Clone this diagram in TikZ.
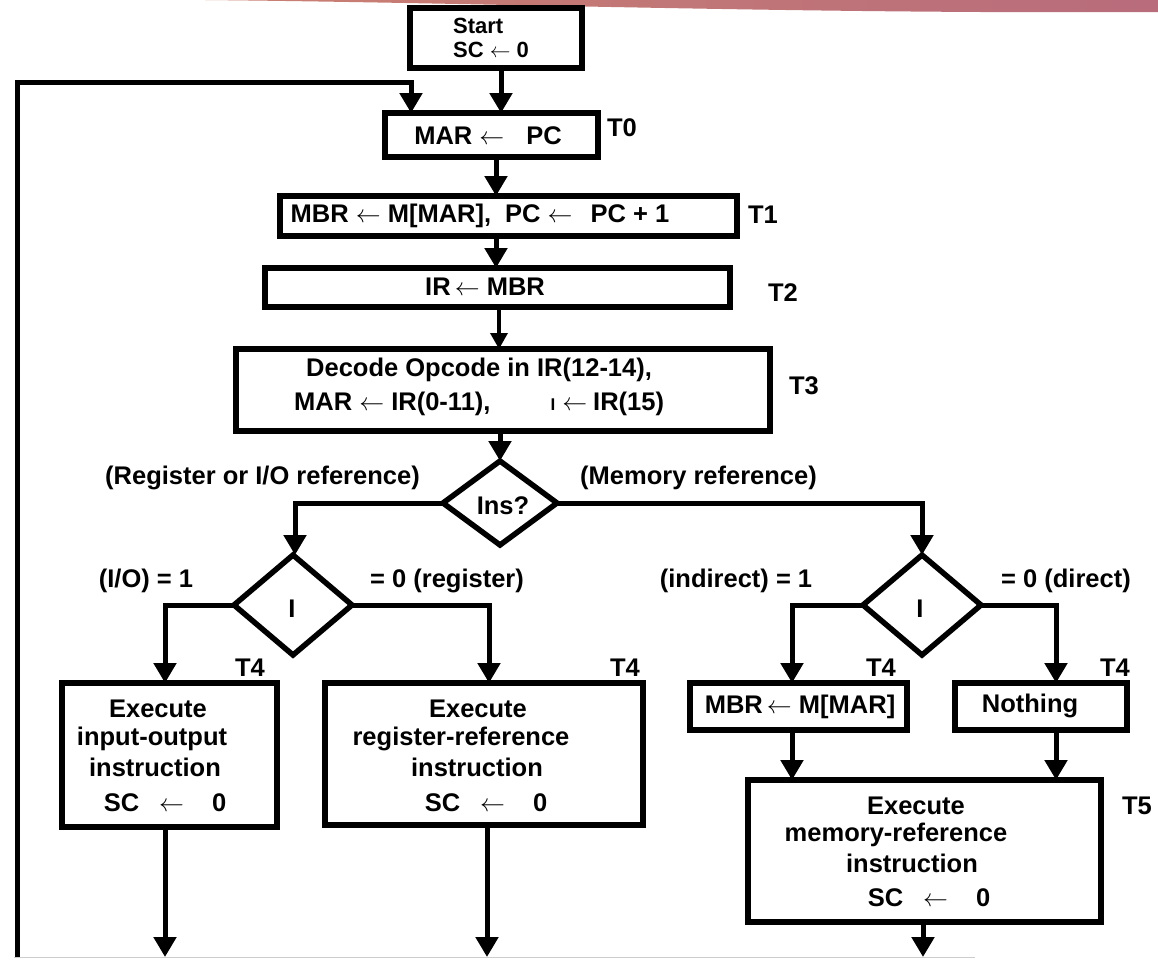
\documentclass[tikz,border=0pt]{standalone}
\usepackage{fontspec}
\setmainfont{Liberation Sans}
\usetikzlibrary{arrows.meta,shapes.geometric}
\definecolor{bandL}{RGB}{202,128,114}
\definecolor{bandR}{RGB}{184,108,124}
\definecolor{rule}{RGB}{205,205,205}
\begin{document}
\begin{tikzpicture}[x=1pt,y=-1pt,
  box/.style={draw, line width=5.5pt, rectangle, inner sep=0pt, outer sep=0pt},
  dia/.style={draw, line width=5.5pt, diamond, inner sep=0pt, outer sep=0pt},
  txt/.style={font=\bfseries\fontsize{25.5}{30}\selectfont, inner sep=0pt, align=center},
  wire/.style={line width=5pt},
  arr/.style={wire, -{Triangle[width=22pt,length=20pt]}},
  thinarr/.style={line width=3.5pt, -{Triangle[width=17pt,length=16pt]}},
]
\useasboundingbox (0,0) rectangle (1158,959);

% decorative band along the top edge
\shade[left color=bandL, right color=bandR]
  (205,0) .. controls (500,3) and (800,14) .. (1158,12) -- (1158,0) -- cycle;

% faint base rule
\draw[rule, line width=1.5pt] (14,957.5) -- (975,957.5);

% ---------- fetch / decode chain ----------
\node[box, minimum width=172, minimum height=60] (start) at (496,38) {};
\node[txt, anchor=west, align=left, font=\bfseries\fontsize{22}{24}\selectfont] (starttxt) at (453,38) {Start\\SC $\leftarrow$ 0};

\node[box, minimum width=213, minimum height=44] (mar) at (491.5,135) {};
\node[txt] (martxt) at (488,136) {MAR $\leftarrow$\hspace{22pt}PC};
\node[txt] (t0) at (622,128) {T0};

\node[box, minimum width=457, minimum height=40] (mbr) at (508.5,216) {};
\node[txt] (mbrtxt) at (480,216) {MBR $\leftarrow$ M[MAR],\hspace{14pt}PC $\leftarrow$\hspace{18pt}PC + 1};
\node[txt] (t1) at (763,215) {T1};

\node[box, minimum width=465, minimum height=39] (ir) at (497.5,287.5) {};
\node[txt] (irtxt) at (485,287) {IR$\,\leftarrow$ MBR};
\node[txt] (t2) at (783,293) {T2};

\node[box, minimum width=534, minimum height=82] (dec) at (503,390) {};
\node[txt, anchor=west] (dec1) at (306,370) {Decode Opcode in IR(12-14),};
\node[txt, anchor=west] (dec2) at (294,404) {MAR $\leftarrow$ IR(0-11),\hspace{60pt}{\fontsize{17}{20}\selectfont I} $\leftarrow$\hspace{6pt}IR(15)};
\node[txt] (t3) at (804,386) {T3};

% ---------- instruction type decision ----------
\node[dia, minimum width=114, minimum height=84] (ins) at (500,503) {};
\node[txt] (instxt) at (503,506) {Ins?};
\node[txt, anchor=east] (regio) at (420,478) {(Register or I/O reference)};
\node[txt, anchor=west] (memref) at (580,478) {(Memory reference)};

\node[dia, minimum width=118, minimum height=100] (ia) at (293,605) {};
\node[txt] (iatxt) at (292,609) {I};
\node[txt] (io1) at (146,581) {(I/O) = 1};
\node[txt] (reg0) at (447,581) {= 0 (register)};

\node[dia, minimum width=118, minimum height=100] (ib) at (922,605) {};
\node[txt] (ibtxt) at (920,609) {I};
\node[txt] (ind1) at (736,581) {(indirect) = 1};
\node[txt] (dir0) at (1066,581) {= 0 (direct)};

% ---------- execution boxes ----------
\node[box, minimum width=215, minimum height=144] (exio) at (169.5,755) {};
\node[txt] (exio1) at (158,709) {Execute};
\node[txt] (exio2) at (152,739) {input-output};
\node[txt] (exio3) at (155,767) {instruction};
\node[txt] (exio4) at (165,803) {SC\hspace{20pt}$\leftarrow$\hspace{28pt}0};
\node[txt] (t4a) at (250,668) {T4};

\node[box, minimum width=318, minimum height=142] (exreg) at (484,754) {};
\node[txt] (exreg1) at (478,709) {Execute};
\node[txt] (exreg2) at (461,739) {register-reference};
\node[txt] (exreg3) at (477,767) {instruction};
\node[txt] (exreg4) at (486,803) {SC\hspace{20pt}$\leftarrow$\hspace{28pt}0};
\node[txt] (t4b) at (625,668) {T4};

\node[box, minimum width=217, minimum height=47] (fetchop) at (798.5,706.5) {};
\node[txt] (fetchoptxt) at (800,707) {MBR$\,\leftarrow$ M[MAR]};
\node[txt] (t4c) at (881,668) {T4};

\node[box, minimum width=172, minimum height=47] (nothing) at (1041,706.5) {};
\node[txt] (nothingtxt) at (1030,706) {Nothing};
\node[txt] (t4d) at (1115,668) {T4};

\node[box, minimum width=353, minimum height=142] (exmem) at (924.5,851) {};
\node[txt] (exmem1) at (916,806) {Execute};
\node[txt] (exmem2) at (896,835) {memory-reference};
\node[txt] (exmem3) at (912,863) {instruction};
\node[txt] (exmem4) at (929,898) {SC\hspace{20pt}$\leftarrow$\hspace{28pt}0};
\node[txt] (t5) at (1137,806) {T5};

% ---------- connectors ----------
\coordinate (loopend) at (17,957);
\coordinate (outio) at (165,957);
\coordinate (outreg) at (487,957);
\coordinate (outmem) at (923,957);

\draw[arr] (loopend) -- (17,82) -- (411,82) -- (411,0 |- mar.north);
\draw[arr] (501,0 |- start.south) -- (501,0 |- mar.north);
\draw[arr] (496,0 |- mar.south) -- (496,0 |- mbr.north);
\draw[arr] (496,0 |- mbr.south) -- (496,0 |- ir.north);
\draw[thinarr] (499,0 |- ir.south) -- (499,0 |- dec.north);
\draw[arr] (500,0 |- dec.south) -- (ins.north);

\draw[arr] (ins.west) -- (295,0 |- ins.west) -- (295,0 |- ia.north);
\draw[arr] (ins.east) -- (922,0 |- ins.east) -- (ib.north);

\draw[arr] (ia.west) -- (165,0 |- ia.west) -- (165,0 |- exio.north);
\draw[arr] (ia.east) -- (489,0 |- ia.east) -- (489,0 |- exreg.north);
\draw[arr] (ib.west) -- (792,0 |- ib.west) -- (792,0 |- fetchop.north);
\draw[arr] (ib.east) -- (1056,0 |- ib.east) -- (1056,0 |- nothing.north);

\draw[arr] (792,0 |- fetchop.south) -- (792,0 |- exmem.north);
\draw[arr] (1056,0 |- nothing.south) -- (1056,0 |- exmem.north);

\draw[arr] (165,0 |- exio.south) -- (outio);
\draw[arr] (487,0 |- exreg.south) -- (outreg);
\draw[arr] (923,0 |- exmem.south) -- (outmem);
\end{tikzpicture}
\end{document}
